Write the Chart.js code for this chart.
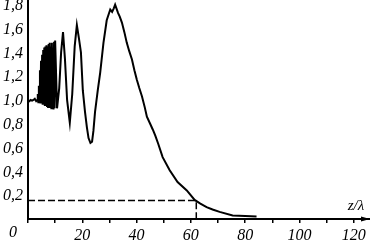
<!DOCTYPE html>
<html>
<head>
<meta charset="utf-8">
<script src="https://cdn.jsdelivr.net/npm/chart.js@4/dist/chart.umd.min.js"></script>
<style>
  html, body { margin:0; padding:0; background:#fff; }
  #wrap { width:370px; height:240px; }
</style>
</head>
<body>
<div id="wrap"><canvas id="c"></canvas></div>
<script>
// ---- data ----
const zPos = [
  0, 0.5, 1, 1.5, 2, 2.5, 3, 3.4,
  3.6, 3.8, 4.0, 4.2, 4.4, 4.6, 4.8, 5.0, 5.2, 5.4, 5.6, 5.8, 6.0, 6.2, 6.4, 6.6,
  6.8, 7.0, 7.2, 7.4, 7.6, 7.8, 8.0, 8.2, 8.4, 8.6, 8.8, 9.0, 9.2, 9.4, 9.6, 9.8, 10.0,
  10.7, 11.5, 12.2, 12.9, 13.6, 14.4, 15.4, 16.3, 17.2, 18.0, 18.75, 19.5, 20.2, 21.0,
  21.7, 22.3, 23.0, 23.6, 24.1, 24.7, 25.7, 26.6, 27.8, 29.0, 30.3, 31.0, 31.6, 32.1,
  33.2, 33.8, 34.6, 35.5, 36.4, 37.3, 38.3, 39.2, 40.1, 41.0, 42.0, 43.0, 43.8, 45.0,
  46.0, 46.9, 48.0, 49.6, 52.2, 55.1, 58.5, 61.4, 63.5, 65.8, 68.0, 70.6, 75.4,
  80.0, 84.2
];
const intensity = [
  1.00, 0.99, 1.00, 0.995, 1.00, 1.01, 0.99, 1.00,
  1.05, 0.98, 1.12, 0.98, 1.25, 0.97, 1.33, 0.97, 1.38, 0.96, 1.42, 0.96, 1.44, 0.95, 1.45, 0.95,
  1.46, 0.95, 1.45, 0.94, 1.47, 0.94, 1.48, 0.94, 1.45, 0.93, 1.48, 0.93, 1.44, 0.92, 1.49, 0.93, 1.50,
  0.93, 1.10, 1.40, 1.57, 1.35, 1.00, 0.81, 1.05, 1.45, 1.63, 1.52, 1.40, 1.08, 0.90,
  0.77, 0.68, 0.64, 0.65, 0.74, 0.90, 1.08, 1.23, 1.48, 1.67, 1.76, 1.74, 1.77, 1.80,
  1.73, 1.70, 1.65, 1.57, 1.48, 1.41, 1.34, 1.25, 1.17, 1.10, 1.03, 0.94, 0.86, 0.80,
  0.75, 0.70, 0.63, 0.52, 0.41, 0.31, 0.24, 0.16, 0.13, 0.10, 0.08, 0.06, 0.03,
  0.025, 0.022
];
const markZ = 62;       // dashed marker position
const markLevel = 0.155;
const xTicks = [0, 10, 20, 30, 40, 50, 60, 70, 80, 90, 100, 110, 120];
const yTicks = [0.2, 0.4, 0.6, 0.8, 1.0, 1.2, 1.4, 1.6, 1.8];
const xTitle = 'z/λ';

const FONT = { family: '"Liberation Serif", "DejaVu Serif", serif', size: 16, style: 'italic' };

// extra text + arrow on the x axis
const extras = {
  id: 'extras',
  afterDraw(chart) {
    const { ctx, chartArea } = chart;
    const yb = chartArea.bottom;
    ctx.save();
    ctx.fillStyle = '#000';
    // arrow head
    ctx.beginPath();
    ctx.moveTo(370, yb);
    ctx.lineTo(361, yb - 2.5);
    ctx.lineTo(361, yb + 2.5);
    ctx.closePath();
    ctx.fill();
    // origin label
    ctx.font = 'italic 16px "Liberation Serif", serif';
    ctx.textAlign = 'center';
    ctx.textBaseline = 'middle';
    ctx.fillText('0', 13, 233);
    // axis title
    ctx.font = 'italic 15px "Liberation Serif", serif';
    ctx.fillText(xTitle, 356, 206);
    ctx.restore();
  }
};

new Chart(document.getElementById('c'), {
  type: 'line',
  data: {
    datasets: [
      {
        data: zPos.map((z, i) => ({ x: z, y: intensity[i] })),
        borderColor: '#000', borderWidth: 2, pointRadius: 0, tension: 0, fill: false,
      },
      {
        data: [{ x: 0, y: markLevel }, { x: markZ, y: markLevel }, { x: markZ, y: 0 }],
        borderColor: '#000', borderWidth: 1.5, borderDash: [7, 3], pointRadius: 0, tension: 0, fill: false,
      },
    ],
  },
  options: {
    responsive: true, maintainAspectRatio: false, animation: false,
    layout: { padding: 0 },
    plugins: { legend: { display: false }, tooltip: { enabled: false } },
    scales: {
      x: {
        type: 'linear', min: 0, max: 126,
        afterBuildTicks: s => { s.ticks = xTicks.map(v => ({ value: v })); },
        afterFit: s => { s.height = 21; s.paddingLeft = 0; s.paddingRight = 0; },
        ticks: {
          autoSkip: false, maxRotation: 0, padding: 3, color: '#000', font: FONT,
          callback: v => (v > 0 && v % 20 === 0) ? String(v) : '',
        },
        grid: { display: true, drawOnChartArea: false, drawTicks: true, tickLength: 4, color: '#000', lineWidth: 1.5 },
        border: { display: true, color: '#000', width: 2 },
      },
      y: {
        type: 'linear', min: 0, max: 1.84,
        afterBuildTicks: s => { s.ticks = yTicks.map(v => ({ value: v })); },
        afterFit: s => { s.width = 28; s.paddingTop = 0; s.paddingBottom = 0; },
        ticks: {
          padding: 5, color: '#000', font: FONT, labelOffset: 1,
          callback: v => v.toFixed(1).replace('.', ','),
        },
        grid: { display: false, drawTicks: false },
        border: { display: true, color: '#000', width: 2 },
      },
    },
  },
  plugins: [extras],
});
</script>
</body>
</html>
